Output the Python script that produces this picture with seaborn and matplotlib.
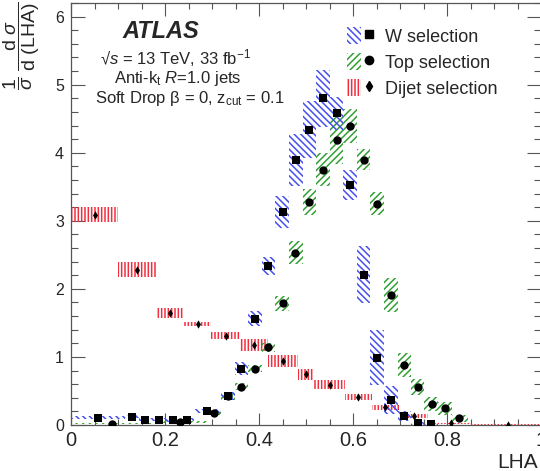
import matplotlib
matplotlib.use("Agg")
import matplotlib.pyplot as plt
import seaborn as sns
import numpy as np
from matplotlib.patches import Patch
from matplotlib.lines import Line2D
from matplotlib.legend_handler import HandlerTuple
from matplotlib.ticker import MultipleLocator

# ---------------- data ----------------
# W selection
w_x = [0.057, 0.130, 0.158, 0.188, 0.217, 0.247, 0.289, 0.333, 0.362, 0.392, 0.420, 0.450,
       0.478, 0.507, 0.536, 0.565, 0.593, 0.623, 0.651, 0.681, 0.709, 0.739, 0.767]
w_y = [0.11, 0.12, 0.08, 0.08, 0.07, 0.08, 0.20, 0.42, 0.83, 1.56, 2.34, 3.13,
       3.89, 4.34, 4.80, 4.58, 3.53, 2.21, 0.99, 0.37, 0.13, 0.025, 0.01]
w_err = [0.02, 0.02, 0.02, 0.02, 0.02, 0.02, 0.03, 0.06, 0.10, 0.11, 0.13, 0.23,
         0.38, 0.42, 0.42, 0.24, 0.22, 0.42, 0.40, 0.21, 0.07, 0.02, 0.01]
w_lo = [0.0, 0.115, 0.145, 0.173, 0.203, 0.232, 0.262, 0.319, 0.348, 0.377, 0.406, 0.435,
        0.464, 0.493, 0.521, 0.550, 0.579, 0.608, 0.637, 0.666, 0.695, 0.724, 0.752]
w_hi = [0.115, 0.145, 0.173, 0.203, 0.232, 0.262, 0.319, 0.348, 0.377, 0.406, 0.435, 0.464,
        0.493, 0.521, 0.550, 0.579, 0.608, 0.637, 0.666, 0.695, 0.724, 0.752, 0.781]

# Top selection
t_x = [0.088, 0.232, 0.305, 0.334, 0.362, 0.392, 0.420, 0.450, 0.477, 0.507, 0.536,
       0.565, 0.593, 0.623, 0.651, 0.681, 0.709, 0.739, 0.768, 0.796, 0.826]
t_y = [0.02, 0.045, 0.17, 0.42, 0.56, 0.83, 1.14, 1.79, 2.53, 3.27, 3.75,
       4.18, 4.39, 3.90, 3.25, 1.91, 0.88, 0.56, 0.31, 0.245, 0.10]
t_err = [0.01, 0.015, 0.03, 0.05, 0.05, 0.05, 0.07, 0.11, 0.17, 0.19, 0.24,
         0.35, 0.25, 0.15, 0.17, 0.25, 0.18, 0.12, 0.10, 0.10, 0.05]
t_lo = [0.0, 0.175, 0.290, 0.319, 0.348, 0.377, 0.406, 0.435, 0.464, 0.493, 0.521,
        0.550, 0.579, 0.608, 0.637, 0.666, 0.695, 0.724, 0.752, 0.781, 0.810]
t_hi = [0.175, 0.290, 0.319, 0.348, 0.377, 0.406, 0.435, 0.464, 0.493, 0.521, 0.550,
        0.579, 0.608, 0.637, 0.666, 0.695, 0.724, 0.752, 0.781, 0.810, 0.845]

# Dijet selection
d_x = [0.05, 0.14, 0.21, 0.27, 0.33, 0.39, 0.45, 0.50, 0.55, 0.61, 0.668, 0.729, 0.808, 0.93]
d_y = [3.09, 2.28, 1.65, 1.48, 1.31, 1.17, 0.94, 0.745, 0.59, 0.41, 0.26, 0.13, 0.025, 0.003]
d_err = [0.11, 0.11, 0.075, 0.03, 0.05, 0.09, 0.095, 0.08, 0.065, 0.04, 0.035, 0.03, 0.01, 0.005]
d_lo = [0.0, 0.099, 0.183, 0.240, 0.298, 0.360, 0.419, 0.482, 0.518, 0.583, 0.640, 0.697, 0.760, 0.850]
d_hi = [0.099, 0.183, 0.240, 0.298, 0.360, 0.419, 0.482, 0.518, 0.583, 0.640, 0.697, 0.760, 0.850, 1.0]

x_ticks = [0, 0.2, 0.4, 0.6, 0.8, 1.0]
x_tick_labels = ["0", "0.2", "0.4", "0.6", "0.8", "1"]
y_ticks = [0, 1, 2, 3, 4, 5, 6]

labels = ["W selection", "Top selection", "Dijet selection"]

# ---------------- style ----------------
sns.set_style("ticks")
plt.rcParams['font.family'] = ['Liberation Sans', 'DejaVu Sans']
plt.rcParams['mathtext.fontset'] = 'custom'
plt.rcParams['mathtext.rm'] = 'Liberation Sans'
plt.rcParams['mathtext.it'] = 'Liberation Sans:italic'
plt.rcParams['mathtext.bf'] = 'Liberation Sans:bold'
plt.rcParams['hatch.linewidth'] = 1.1

BLUE = "#4650ee"
GREEN = "#34a034"
RED = "#f03040"
AXC = "#555555"

fig = plt.figure(figsize=(5.4, 4.71), dpi=100)
ax = fig.add_axes([71 / 540, 46 / 471, 470 / 540, 422 / 471])


def boxes(lo, hi, y, err, color, hatch):
    lo = np.asarray(lo); hi = np.asarray(hi)
    y = np.asarray(y); err = np.asarray(err)
    ax.bar((lo + hi) / 2, 2 * err, width=hi - lo, bottom=y - err, align='center',
           fill=False, hatch=hatch, edgecolor=color, linewidth=0, zorder=2)


boxes(d_lo, d_hi, d_y, d_err, RED, '|' * 5)
boxes(t_lo, t_hi, t_y, t_err, GREEN, '/' * 5)
boxes(w_lo, w_hi, w_y, w_err, BLUE, '\\' * 5)

sns.scatterplot(x=w_x, y=w_y, marker='s', color='black', s=38, linewidth=0, ax=ax, zorder=4)
sns.scatterplot(x=t_x, y=t_y, marker='o', color='black', s=36, linewidth=0, ax=ax, zorder=4)
sns.scatterplot(x=d_x, y=d_y, marker='d', color='black', s=18, linewidth=0, ax=ax, zorder=4)

ax.set_xlim(0, 1.0)
ax.set_ylim(0, 6.2)
ax.set_xticks(x_ticks)
ax.set_xticklabels(x_tick_labels)
ax.set_yticks(y_ticks)
ax.xaxis.set_minor_locator(MultipleLocator(0.05))
ax.yaxis.set_minor_locator(MultipleLocator(0.2))
ax.tick_params(axis='both', which='both', direction='in', top=True, right=True,
               color=AXC, width=0.8)
ax.tick_params(axis='x', which='major', length=9, labelsize=14.5, pad=4)
ax.tick_params(axis='x', which='minor', length=4.5)
ax.tick_params(axis='y', which='major', length=10, labelsize=11.5, pad=5)
ax.tick_params(axis='y', which='minor', length=5)
for sp in ax.spines.values():
    sp.set_color(AXC)
    sp.set_linewidth(0.9)
ax.set_xlabel("")
ax.set_ylabel("")

# axis titles
fig.text(538 / 540, 1 - 462 / 471, "LHA", ha='right', va='center', fontsize=15)
fig.text(22 / 540, 1 - 1 / 471,
         r'$\dfrac{1}{\sigma}\ \dfrac{\mathrm{d}\ \sigma}{\mathrm{d}\ (\mathrm{LHA})}$',
         rotation=90, ha='center', va='top', fontsize=14)

# ATLAS labels
fig.text(161 / 540, 1 - 32 / 471, "ATLAS", ha='center', va='center', fontsize=17,
         fontweight='bold', fontstyle='italic')
fig.text(176 / 540, 1 - 58 / 471, '√$s$ = 13 TeV, 33 fb$^{-1}$', ha='center', va='center', fontsize=12)
fig.text(178 / 540, 1 - 79 / 471, 'Anti-k$_{\\mathrm{t}}$ $R$=1.0 jets', ha='center', va='center', fontsize=12)
fig.text(190 / 540, 1 - 99 / 471, 'Soft Drop β = 0, z$_{\\mathrm{cut}}$ = 0.1', ha='center', va='center', fontsize=12)

# legend
handles = [
    (Patch(facecolor='none', edgecolor=BLUE, hatch='\\' * 5, linewidth=0),
     Line2D([], [], marker='s', color='black', linestyle='none', markersize=6)),
    (Patch(facecolor='none', edgecolor=GREEN, hatch='/' * 5, linewidth=0),
     Line2D([], [], marker='o', color='black', linestyle='none', markersize=6)),
    (Patch(facecolor='none', edgecolor=RED, hatch='|' * 5, linewidth=0),
     Line2D([], [], marker='d', color='black', linestyle='none', markersize=5)),
]
fig.legend(handles, labels, handler_map={tuple: HandlerTuple(ndivide=None, pad=0)},
           loc='upper left', bbox_to_anchor=(347 / 540, 1 - 27 / 471), frameon=False,
           fontsize=13, handlelength=1.6, handleheight=1.1, handletextpad=0.5,
           labelspacing=0.4, borderpad=0, borderaxespad=0)

fig.savefig("out.png", dpi=100)
